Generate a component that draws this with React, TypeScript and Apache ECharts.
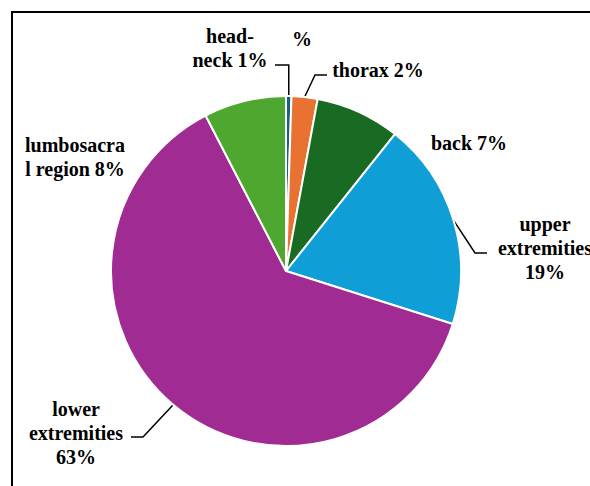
import React, { useEffect, useRef } from 'react';
import * as echarts from 'echarts';

// ---- data ----
const categories = ['head-neck', 'thorax', 'back', 'upper extremities', 'lower extremities', 'lumbosacral region'];
const shares = [0.5, 2.4, 7.8, 19.2, 62.5, 7.6];
const labelTexts = ['head-\nneck 1%', 'thorax 2%', 'back 7%', 'upper\nextremities\n19%', 'lower\nextremities\n63%', 'lumbosacra\nl region 8%'];
const strayLabel = '%';

// ---- styling / layout ----
const colors = ['#156082', '#E97132', '#196B24', '#0F9ED5', '#A02B93', '#4EA72E'];
const hasLeader = [true, true, false, true, true, false];
type Pt = number[];
const placement: { x: number; y: number; line?: (p0: Pt) => Pt[] }[] = [
  { x: 230, y: 48, line: (p0) => [[p0[0], 65], [275, 65]] },
  { x: 378, y: 70, line: () => [[315, 75], [327, 75]] },
  { x: 469, y: 143 },
  { x: 545, y: 248, line: () => [[475, 253], [487, 253]] },
  { x: 76, y: 433, line: () => [[143, 437], [131, 437]] },
  { x: 75, y: 157 },
];
const FONT = '"Liberation Serif", "Times New Roman", serif';

export default function App() {
  const ref = useRef<HTMLDivElement>(null);
  useEffect(() => {
    if (!ref.current) return;
    const chart = echarts.init(ref.current, undefined, { renderer: 'svg' });
    chart.setOption({
      animation: false,
      backgroundColor: '#fff',
      graphic: [
        {
          type: 'rect',
          silent: true,
          shape: { x: 12, y: 12, width: 800, height: 700 },
          style: { fill: 'none', stroke: '#000', lineWidth: 2 },
        },
        {
          type: 'text',
          silent: true,
          x: 302,
          y: 39,
          style: {
            text: strayLabel,
            fontFamily: FONT,
            fontWeight: 'bold',
            fontSize: 20,
            fill: '#000',
            align: 'center',
            verticalAlign: 'middle',
          },
        },
      ],
      series: [
        {
          type: 'pie',
          center: [286, 271],
          radius: 175,
          startAngle: 90,
          clockwise: true,
          avoidLabelOverlap: false,
          itemStyle: { borderColor: '#fff', borderWidth: 2 },
          label: {
            show: true,
            position: 'outside',
            fontFamily: FONT,
            fontWeight: 'bold',
            fontSize: 20,
            lineHeight: 24,
            color: '#000',
            formatter: (p: any) => labelTexts[p.dataIndex],
          },
          labelLine: { show: true, lineStyle: { color: '#000', width: 1.5 } },
          labelLayout: (params: any) => {
            const cfg = placement[params.dataIndex];
            const res: any = { x: cfg.x, y: cfg.y, align: 'center', verticalAlign: 'middle', hideOverlap: false };
            const p0 = params.labelLinePoints && params.labelLinePoints[0];
            if (cfg.line && p0) res.labelLinePoints = [p0, ...cfg.line(p0)];
            return res;
          },
          data: categories.map((name, i) => ({
            name,
            value: shares[i],
            itemStyle: { color: colors[i] },
            labelLine: { show: hasLeader[i] },
          })),
        },
      ],
    });
    return () => chart.dispose();
  }, []);
  return (
    <div
      ref={ref}
      style={{ position: 'fixed', left: 0, top: 0, width: 590, height: 486, background: '#fff' }}
    />
  );
}
